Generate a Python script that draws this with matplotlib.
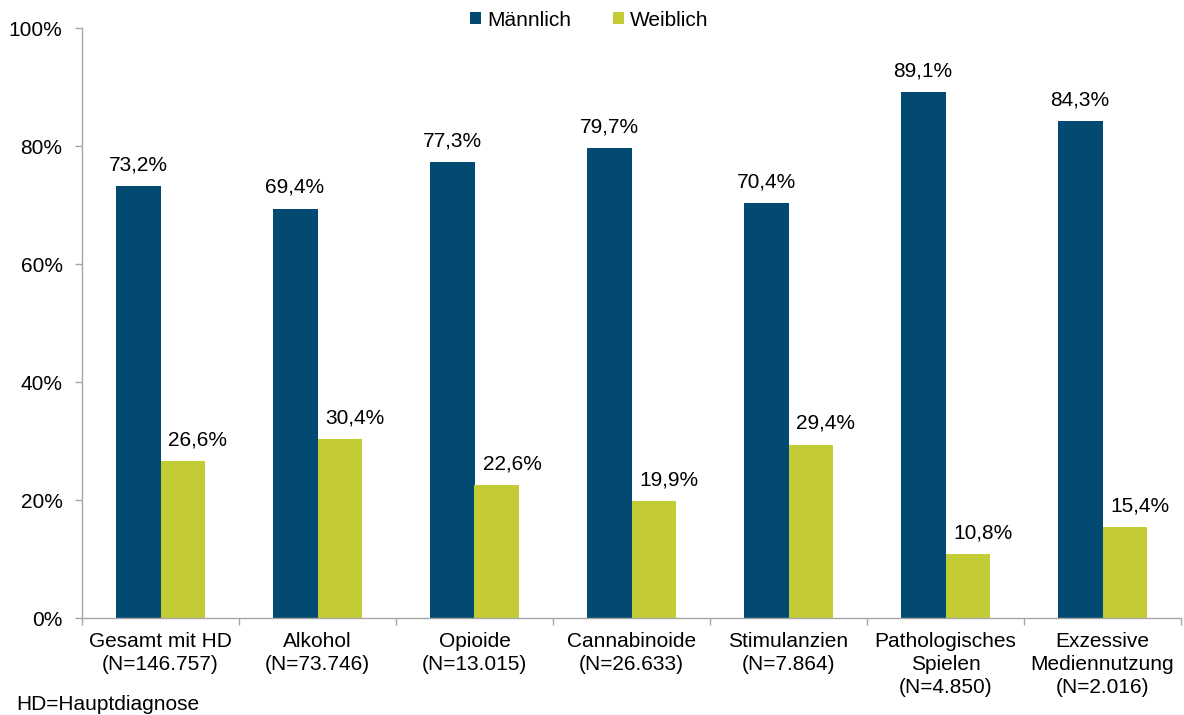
import matplotlib
matplotlib.use("Agg")
import matplotlib.pyplot as plt
import numpy as np

plt.rcParams['font.family'] = ['Liberation Sans', 'DejaVu Sans']

categories = [
    "Gesamt mit HD\n(N=146.757)",
    "Alkohol\n(N=73.746)",
    "Opioide\n(N=13.015)",
    "Cannabinoide\n(N=26.633)",
    "Stimulanzien\n(N=7.864)",
    "Pathologisches\nSpielen\n(N=4.850)",
    "Exzessive\nMediennutzung\n(N=2.016)",
]
maennlich = [73.2, 69.4, 77.3, 79.7, 70.4, 89.1, 84.3]
weiblich = [26.6, 30.4, 22.6, 19.9, 29.4, 10.8, 15.4]
y_ticks = [0, 20, 40, 60, 80, 100]

c_m = "#034A73"
c_w = "#C3CC35"
grey = "#A6A6A6"
fs = 15

fig = plt.figure(figsize=(11.84, 7.15), dpi=100)
ax = fig.add_axes([82/1184, 97/715, 1099/1184, 590/715])

x = np.arange(len(categories))
w = 0.286
bm = ax.bar(x - w/2, maennlich, w, color=c_m, label="Männlich")
bw = ax.bar(x + w/2, weiblich, w, color=c_w, label="Weiblich")

def fmt(v):
    return f"{v:.1f}%".replace(".", ",")

# value labels: male centred over the bar, female nudged slightly right
for bars, vals, dx in ((bm, maennlich, 0), (bw, weiblich, 10.8)):
    for b, v in zip(bars, vals):
        ax.annotate(fmt(v), (b.get_x() + b.get_width()/2, v),
                    xytext=(dx, 11.2), textcoords="offset points",
                    ha="center", va="baseline", fontsize=fs)

ax.set_xlim(-0.5, len(categories) - 0.5)
ax.set_ylim(0, 100)
ax.set_yticks(y_ticks)
ax.set_yticklabels([f"{t}%" for t in y_ticks], fontsize=fs)
ax.set_xticks(x)
ax.set_xticklabels(categories, fontsize=fs, linespacing=1.28)
ax.set_xticks(np.arange(-0.5, len(categories) + 0.5, 1), minor=True)
ax.tick_params(axis="x", which="major", length=0, pad=10)
ax.tick_params(axis="x", which="minor", length=5, color=grey, width=1)
ax.tick_params(axis="y", length=5, color=grey, width=1, pad=9)

for s in ("top", "right"):
    ax.spines[s].set_visible(False)
for s in ("left", "bottom"):
    ax.spines[s].set_color(grey)
    ax.spines[s].set_linewidth(1)

fig.legend(handles=[bm, bw], labels=["Männlich", "Weiblich"], loc="center",
           bbox_to_anchor=(589/1184, 1 - 20/715), ncol=2, frameon=False,
           fontsize=fs, handlelength=0.53, handleheight=0.53,
           handletextpad=0.3, columnspacing=2.0)

fig.text(16/1184, 1 - 705/715, "HD=Hauptdiagnose", fontsize=fs,
         ha="left", va="center")

fig.savefig("out.png", dpi=100)
